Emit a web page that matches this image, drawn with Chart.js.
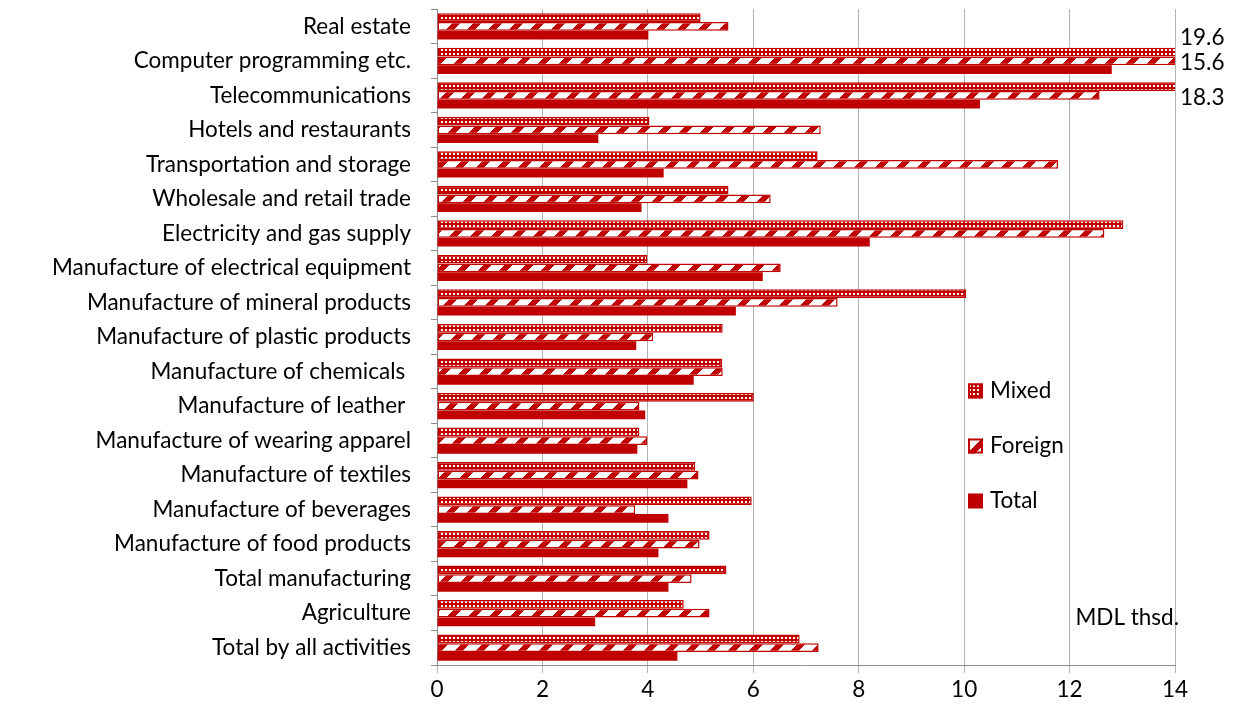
<!DOCTYPE html>
<html>
<head>
<meta charset="utf-8">
<script src="https://cdn.jsdelivr.net/npm/chart.js@4.4.1/dist/chart.umd.min.js"></script>
<style>
  html, body { margin: 0; padding: 0; background: #ffffff; }
  #wrap { width: 1235px; height: 710px; position: relative; }
</style>
</head>
<body>
<div id="wrap"><canvas id="c" width="1235" height="710"></canvas></div>
<script>
const categories = [
  'Real estate',
  'Computer programming etc.',
  'Telecommunications',
  'Hotels and restaurants',
  'Transportation and storage',
  'Wholesale and retail trade',
  'Electricity and gas supply',
  'Manufacture of electrical equipment',
  'Manufacture of mineral products',
  'Manufacture of plastic products',
  'Manufacture of chemicals ',
  'Manufacture of leather ',
  'Manufacture of wearing apparel',
  'Manufacture of textiles',
  'Manufacture of beverages',
  'Manufacture of food products',
  'Total manufacturing',
  'Agriculture',
  'Total by all activities'
];
const mixed   = [5.0, 19.6, 18.3, 4.03, 7.22, 5.53, 13.02, 3.99, 10.04, 5.42, 5.41, 6.01, 3.84, 4.9, 5.97, 5.17, 5.49, 4.68, 6.88];
const foreign = [5.53, 15.6, 12.57, 7.28, 11.78, 6.33, 12.66, 6.52, 7.6, 4.1, 5.42, 3.84, 3.99, 4.96, 3.76, 4.98, 4.83, 5.17, 7.24];
const total   = [4.01, 12.8, 10.3, 3.06, 4.3, 3.88, 8.21, 6.18, 5.67, 3.78, 4.87, 3.95, 3.8, 4.75, 4.39, 4.2, 4.39, 3.0, 4.56];
const xTicks  = [0, 2, 4, 6, 8, 10, 12, 14];
const seriesNames = ['Mixed', 'Foreign', 'Total'];
const unitNote = 'MDL thsd.';

const RED = '#C00000';
const FONT = 'Lato, "Open Sans", "DejaVu Sans", sans-serif';
const FSIZE = 22.5;

function makeTile(w, h, fn) {
  const cv = document.createElement('canvas');
  cv.width = w; cv.height = h;
  const cx = cv.getContext('2d');
  const img = cx.createImageData(w, h);
  for (let y = 0; y < h; y++) {
    for (let x = 0; x < w; x++) {
      const white = fn(x, y);
      const i = (y * w + x) * 4;
      if (white) { img.data[i] = 255; img.data[i+1] = 255; img.data[i+2] = 255; }
      else { img.data[i] = 192; img.data[i+1] = 0; img.data[i+2] = 0; }
      img.data[i+3] = 255;
    }
  }
  cx.putImageData(img, 0, 0);
  return cx.createPattern(cv, 'repeat');
}
// Mixed: small white squares on red
const patMixed = makeTile(4, 4, (x, y) => (x >= 1 && x <= 2 && y >= 1 && y <= 2));
// Foreign: diagonal white slashes
const patForeign = makeTile(21, 21, (x, y) => ((x + y) % 21) < 13);

const labelOffsets = { '0-1': -14, '1-1': 2, '0-2': 11 };

const annotPlugin = {
  id: 'annot',
  afterDatasetsDraw(chart) {
    const ctx = chart.ctx;
    const ca = chart.chartArea;
    const xs = chart.scales.x;
    ctx.save();
    ctx.font = FSIZE + 'px ' + FONT;
    ctx.fillStyle = '#000';
    ctx.textAlign = 'left';
    ctx.textBaseline = 'middle';
    chart.data.datasets.forEach((ds, di) => {
      const meta = chart.getDatasetMeta(di);
      ds.data.forEach((v, i) => {
        if (v > xs.max) {
          const key = di + '-' + i;
          const dy = labelOffsets[key] || 0;
          ctx.fillText(v.toFixed(1), ca.right + 5, meta.data[i].y + dy);
        }
      });
    });
    // legend
    const lx = ca.right - 207;
    const ly0 = ca.top + 382;
    const gap = 55;
    chart.data.datasets.forEach((ds, di) => {
      const cy = ly0 + di * gap;
      const s = 15;
      ctx.fillStyle = ds.backgroundColor;
      ctx.fillRect(lx, cy - s / 2, s, s);
      if (ds.borderWidth) {
        ctx.strokeStyle = RED;
        ctx.lineWidth = 2;
        ctx.strokeRect(lx + 1, cy - s / 2 + 1, s - 2, s - 2);
      }
      ctx.fillStyle = '#000';
      ctx.font = FSIZE + 'px ' + FONT;
      ctx.textAlign = 'left';
      ctx.textBaseline = 'middle';
      ctx.fillText(ds.label, lx + 22, cy);
    });
    ctx.textAlign = 'right';
    ctx.textBaseline = 'middle';
    ctx.fillText(unitNote, ca.right + 4, ca.top + 609);
    ctx.restore();
  }
};

new Chart(document.getElementById('c'), {
  type: 'bar',
  data: {
    labels: categories,
    datasets: [
      { label: seriesNames[0], data: mixed, backgroundColor: patMixed, borderColor: RED, borderWidth: 1.5, borderSkipped: false },
      { label: seriesNames[1], data: foreign, backgroundColor: patForeign, borderColor: RED, borderWidth: 1.5, borderSkipped: false },
      { label: seriesNames[2], data: total, backgroundColor: RED, borderWidth: 0 }
    ]
  },
  options: {
    indexAxis: 'y',
    responsive: false,
    animation: false,
    devicePixelRatio: 1,
    layout: { padding: { left: 0, right: 60, top: 9, bottom: 2 } },
    datasets: { bar: { categoryPercentage: 0.76, barPercentage: 1.0 } },
    plugins: { legend: { display: false }, tooltip: { enabled: false } },
    scales: {
      x: {
        min: 0, max: 14,
        afterBuildTicks(scale) { scale.ticks = xTicks.map(v => ({ value: v })); },
        afterFit(scale) { scale.height = 43; },
        ticks: { color: '#000', font: { family: FONT, size: FSIZE }, padding: 3 },
        grid: { color: '#b3b3b3', lineWidth: 1, tickLength: 8 },
        border: { color: '#8c8c8c' }
      },
      y: {
        afterFit(scale) { scale.width = 437; scale.paddingTop = 0; scale.paddingBottom = 0; },
        ticks: { color: '#000', font: { family: FONT, size: FSIZE }, padding: 20, autoSkip: false },
        grid: { drawOnChartArea: false, drawTicks: true, tickLength: 6, color: '#8c8c8c', offset: true },
        border: { color: '#8c8c8c' }
      }
    }
  },
  plugins: [annotPlugin]
});
</script>
</body>
</html>
